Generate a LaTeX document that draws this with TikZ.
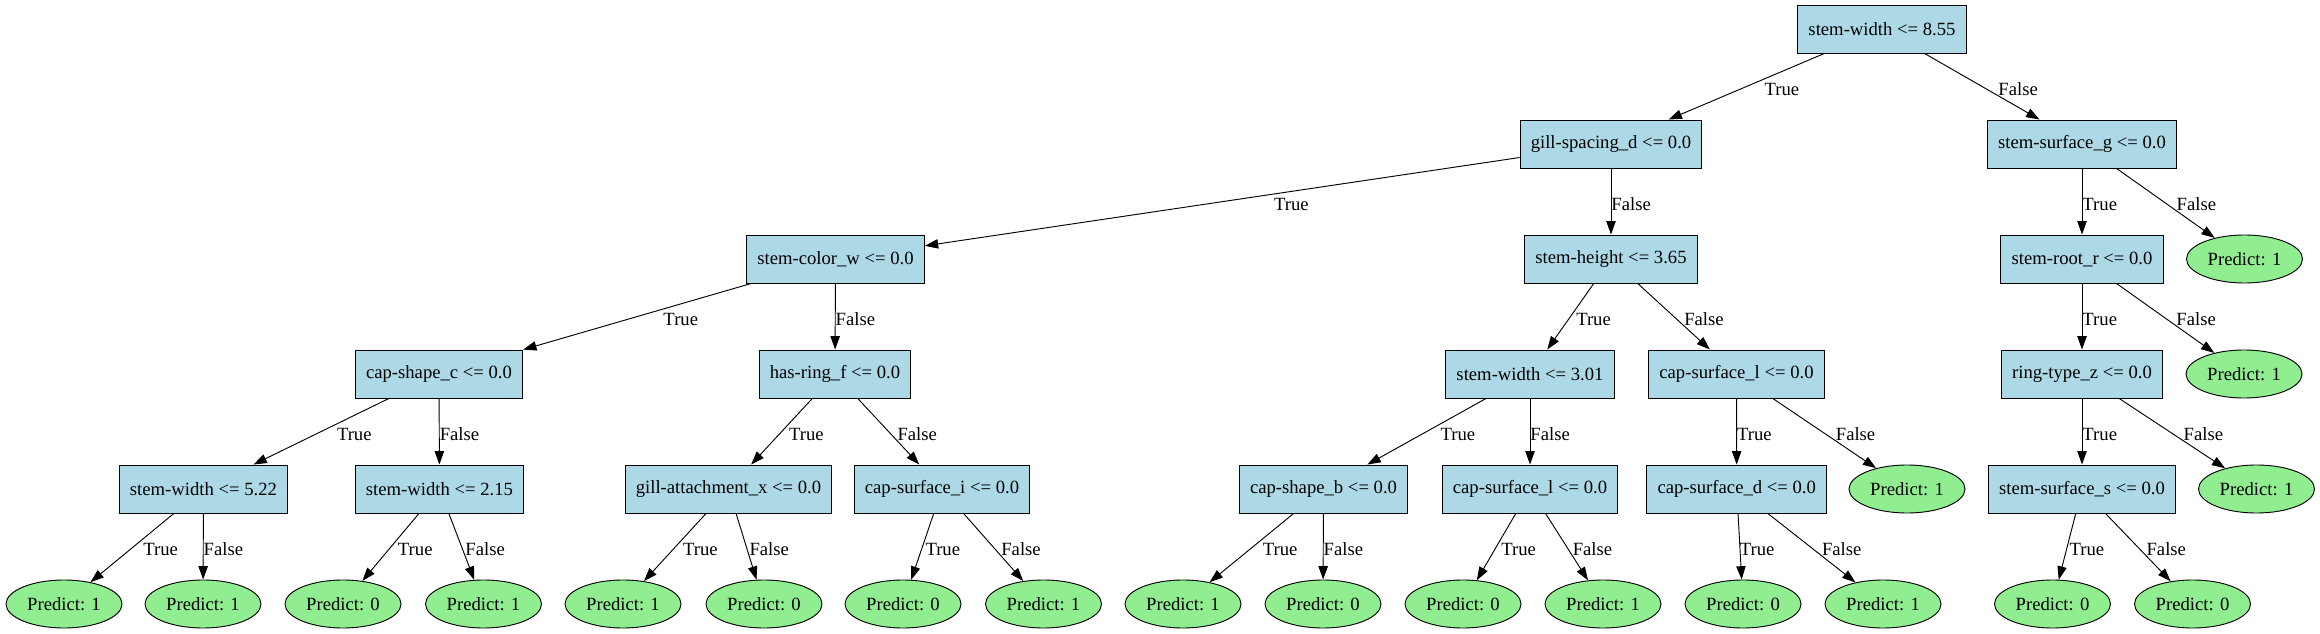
\documentclass[tikz,border=0pt]{standalone}
\usepackage{fontspec}
\setmainfont{Liberation Serif}
\usepackage{tikz}
\usetikzlibrary{arrows.meta, shapes.geometric, calc}
\definecolor{splitblue}{HTML}{ADD8E6}
\definecolor{leafgreen}{HTML}{90EE90}

\begin{document}
\begin{tikzpicture}[x=0.75pt, y=-0.75pt, font=\fontsize{14pt}{17pt}\selectfont,
	splitbox/.style={rectangle, draw=black, fill=splitblue, line width=0.7pt, minimum height=36pt, inner xsep=8pt, inner ysep=0pt},
	leafnode/.style={ellipse, draw=black, fill=leafgreen, line width=0.7pt, minimum width=87pt, minimum height=36pt, inner sep=0pt},
	arr/.style={-{Triangle[length=10pt, width=7pt]}, line width=0.7pt},
	tlabel/.style={inner sep=0pt, anchor=north west, text height=12.3pt, text depth=0pt},
	flabel/.style={inner sep=0pt, anchor=south west, text depth=0pt}]
	\useasboundingbox (0,0) rectangle (2320,634);
	\fill[white] (0,0) rectangle (2320,634);
	% rank 0 and 1
	\node[splitbox] (r0) at (1882,29) {stem-width <= 8.55};
	\node[splitbox] (gsd) at (1611,144) {gill-spacing\_d <= 0.0};
	\node[splitbox] (ssg) at (2082,144) {stem-surface\_g <= 0.0};
	% rank 2
	\node[splitbox] (scw) at (835.5,259) {stem-color\_w <= 0.0};
	\node[splitbox] (sht) at (1611,259) {stem-height <= 3.65};
	\node[splitbox] (srr) at (2082,259) {stem-root\_r <= 0.0};
	\node[leafnode] (pa) at (2244.5,259) {Predict: 1};
	% rank 3
	\node[splitbox] (csc) at (439,374) {cap-shape\_c <= 0.0};
	\node[splitbox] (hrf) at (835,374) {has-ring\_f <= 0.0};
	\node[splitbox] (swb) at (1530,374) {stem-width <= 3.01};
	\node[splitbox] (csla) at (1736.5,374) {cap-surface\_l <= 0.0};
	\node[splitbox] (rtz) at (2082,374) {ring-type\_z <= 0.0};
	\node[leafnode] (pb) at (2244,374) {Predict: 1};
	% rank 4
	\node[splitbox] (swc) at (203.5,489) {stem-width <= 5.22};
	\node[splitbox] (swd) at (439.5,489) {stem-width <= 2.15};
	\node[splitbox] (gax) at (728.5,489) {gill-attachment\_x <= 0.0};
	\node[splitbox] (csi) at (942,489) {cap-surface\_i <= 0.0};
	\node[splitbox] (csb) at (1323.5,489) {cap-shape\_b <= 0.0};
	\node[splitbox] (cslb) at (1530,489) {cap-surface\_l <= 0.0};
	\node[splitbox] (csd) at (1736.7,489) {cap-surface\_d <= 0.0};
	\node[leafnode] (pc) at (1907,489) {Predict: 1};
	\node[splitbox] (sss) at (2082,489) {stem-surface\_s <= 0.0};
	\node[leafnode] (pd) at (2256.5,489) {Predict: 1};
	% rank 5
	\node[leafnode] (l1) at (64,604) {Predict: 1};
	\node[leafnode] (l2) at (203,604) {Predict: 1};
	\node[leafnode] (l3) at (343,604) {Predict: 0};
	\node[leafnode] (l4) at (483.5,604) {Predict: 1};
	\node[leafnode] (l5) at (623,604) {Predict: 1};
	\node[leafnode] (l6) at (764,604) {Predict: 0};
	\node[leafnode] (l7) at (903,604) {Predict: 0};
	\node[leafnode] (l8) at (1043.5,604) {Predict: 1};
	\node[leafnode] (l9) at (1183,604) {Predict: 1};
	\node[leafnode] (l10) at (1323,604) {Predict: 0};
	\node[leafnode] (l11) at (1463,604) {Predict: 0};
	\node[leafnode] (l12) at (1603,604) {Predict: 1};
	\node[leafnode] (l13) at (1743,604) {Predict: 0};
	\node[leafnode] (l14) at (1883,604) {Predict: 1};
	\node[leafnode] (l15) at (2052.5,604) {Predict: 0};
	\node[leafnode] (l16) at (2192.5,604) {Predict: 0};
	% branches
	\draw[arr] (r0) -- (gsd) node[tlabel] at ($(r0)!.435!(gsd)$) {True};
	\draw[arr] (r0) -- (ssg) node[flabel] at ($(r0)!.58!(ssg)$) {False};
	\draw[arr] (gsd) -- (scw) node[tlabel] at ($(gsd)!.435!(scw)$) {True};
	\draw[arr] (gsd) -- (sht) node[flabel] at ($(gsd)!.58!(sht)$) {False};
	\draw[arr] (ssg) -- (srr) node[tlabel] at ($(ssg)!.435!(srr)$) {True};
	\draw[arr] (ssg) -- (pa) node[flabel] at ($(ssg)!.58!(pa)$) {False};
	\draw[arr] (scw) -- (csc) node[tlabel] at ($(scw)!.435!(csc)$) {True};
	\draw[arr] (scw) -- (hrf) node[flabel] at ($(scw)!.58!(hrf)$) {False};
	\draw[arr] (sht) -- (swb) node[tlabel] at ($(sht)!.435!(swb)$) {True};
	\draw[arr] (sht) -- (csla) node[flabel] at ($(sht)!.58!(csla)$) {False};
	\draw[arr] (srr) -- (rtz) node[tlabel] at ($(srr)!.435!(rtz)$) {True};
	\draw[arr] (srr) -- (pb) node[flabel] at ($(srr)!.58!(pb)$) {False};
	\draw[arr] (csc) -- (swc) node[tlabel] at ($(csc)!.435!(swc)$) {True};
	\draw[arr] (csc) -- (swd) node[flabel] at ($(csc)!.58!(swd)$) {False};
	\draw[arr] (hrf) -- (gax) node[tlabel] at ($(hrf)!.435!(gax)$) {True};
	\draw[arr] (hrf) -- (csi) node[flabel] at ($(hrf)!.58!(csi)$) {False};
	\draw[arr] (swb) -- (csb) node[tlabel] at ($(swb)!.435!(csb)$) {True};
	\draw[arr] (swb) -- (cslb) node[flabel] at ($(swb)!.58!(cslb)$) {False};
	\draw[arr] (csla) -- (csd) node[tlabel] at ($(csla)!.435!(csd)$) {True};
	\draw[arr] (csla) -- (pc) node[flabel] at ($(csla)!.58!(pc)$) {False};
	\draw[arr] (rtz) -- (sss) node[tlabel] at ($(rtz)!.435!(sss)$) {True};
	\draw[arr] (rtz) -- (pd) node[flabel] at ($(rtz)!.58!(pd)$) {False};
	% leaves
	\draw[arr] (swc) -- (l1) node[tlabel] at ($(swc)!.435!(l1)$) {True};
	\draw[arr] (swc) -- (l2) node[flabel] at ($(swc)!.58!(l2)$) {False};
	\draw[arr] (swd) -- (l3) node[tlabel] at ($(swd)!.435!(l3)$) {True};
	\draw[arr] (swd) -- (l4) node[flabel] at ($(swd)!.58!(l4)$) {False};
	\draw[arr] (gax) -- (l5) node[tlabel] at ($(gax)!.435!(l5)$) {True};
	\draw[arr] (gax) -- (l6) node[flabel] at ($(gax)!.58!(l6)$) {False};
	\draw[arr] (csi) -- (l7) node[tlabel] at ($(csi)!.435!(l7)$) {True};
	\draw[arr] (csi) -- (l8) node[flabel] at ($(csi)!.58!(l8)$) {False};
	\draw[arr] (csb) -- (l9) node[tlabel] at ($(csb)!.435!(l9)$) {True};
	\draw[arr] (csb) -- (l10) node[flabel] at ($(csb)!.58!(l10)$) {False};
	\draw[arr] (cslb) -- (l11) node[tlabel] at ($(cslb)!.435!(l11)$) {True};
	\draw[arr] (cslb) -- (l12) node[flabel] at ($(cslb)!.58!(l12)$) {False};
	\draw[arr] (csd) -- (l13) node[tlabel] at ($(csd)!.435!(l13)$) {True};
	\draw[arr] (csd) -- (l14) node[flabel] at ($(csd)!.58!(l14)$) {False};
	\draw[arr] (sss) -- (l15) node[tlabel] at ($(sss)!.435!(l15)$) {True};
	\draw[arr] (sss) -- (l16) node[flabel] at ($(sss)!.58!(l16)$) {False};
\end{tikzpicture}
\end{document}
